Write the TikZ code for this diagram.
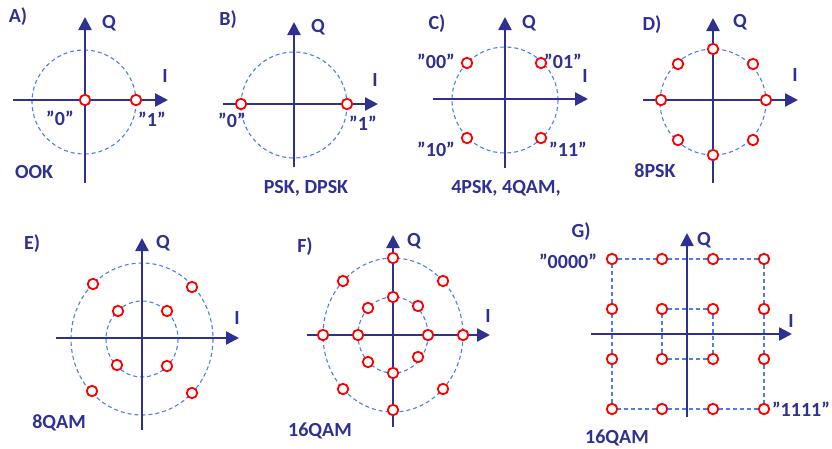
\documentclass[tikz,border=0pt]{standalone}
\usepackage{fontspec}
\setmainfont{Carlito}
\usepackage{xcolor}
\usepackage{tikz}
\usetikzlibrary{arrows.meta,backgrounds}
\definecolor{axiscolor}{HTML}{2E3192}
\definecolor{ringcolor}{HTML}{4D7CF5}
\definecolor{dotcolor}{HTML}{FF0000}

\begin{document}
\begin{tikzpicture}[
    x=1pt, y=-1pt,
    axis/.style={line width=2.4pt, axiscolor, -{Triangle[length=13pt, width=13pt]}},
    ring/.style={draw=ringcolor, line width=1.1pt, dash pattern=on 4pt off 3pt},
    dot/.style={circle, draw=dotcolor, fill=white, line width=1.8pt, minimum size=10.5pt, inner sep=0pt},
    txt/.style={font=\fontsize{20}{20}\selectfont\bfseries, text=axiscolor, inner sep=0pt}
]
\useasboundingbox (0,0) rectangle (832,448);

% A) OOK
\draw[ring] (84,102) circle[radius=52];
\draw[axis] (13,100) -- (168,100);
\draw[axis] (85,183) -- (85,17);
\node[dot] (a0) at (85,100) {};
\node[dot] (a1) at (136,100) {};
\node[txt] (tA) at (18,17) {A)};
\node[txt] (qA) at (109,23) {Q};
\node[txt] (iA) at (165,76) {I};
\node[txt] (lA0) at (60,118) {”0”};
\node[txt] (lA1) at (152,119) {”1”};
\node[txt] (nA) at (34,172) {OOK};

% B) PSK
\draw[ring] (294,105) circle[radius=53];
\draw[axis] (223,104) -- (378,104);
\draw[axis] (294,167) -- (294,22);
\node[dot] (b0) at (241,104) {};
\node[dot] (b1) at (347,104) {};
\node[txt] (tB) at (228,20) {B)};
\node[txt] (qB) at (318,27) {Q};
\node[txt] (iB) at (375,80) {I};
\node[txt] (lB0) at (232,120) {”0”};
\node[txt] (lB1) at (363,123) {”1”};
\node[txt] (nB) at (306,188) {PSK, DPSK};

% C) 4PSK
\draw[ring] (505,100) circle[radius=53];
\draw[axis] (433,99) -- (588,99);
\draw[axis] (505,168) -- (505,17);
\node[dot] (c00) at (467,63) {};
\node[dot] (c01) at (541,63) {};
\node[dot] (c10) at (467,138) {};
\node[dot] (c11) at (541,138) {};
\node[txt] (tC) at (437,24) {C)};
\node[txt] (qC) at (529,23) {Q};
\node[txt] (iC) at (585,76) {I};
\node[txt] (lC00) at (436,61) {”00”};
\node[txt] (lC01) at (563,61) {”01”};
\node[txt] (lC10) at (436,149) {”10”};
\node[txt] (lC11) at (568,149) {”11”};
\node[txt] (nC) at (506,188) {4PSK, 4QAM,};

% D) 8PSK
\draw[ring] (713,102) circle[radius=53];
\draw[axis] (643,100) -- (798,100);
\draw[axis] (713,183) -- (713,18);
\node[dot] (d1) at (766,100) {};
\node[dot] (d2) at (753,64) {};
\node[dot] (d3) at (713,49) {};
\node[dot] (d4) at (678,64) {};
\node[dot] (d5) at (661,100) {};
\node[dot] (d6) at (678,140) {};
\node[dot] (d7) at (713,155) {};
\node[dot] (d8) at (753,140) {};
\node[txt] (tD) at (652,25) {D)};
\node[txt] (qD) at (740,22) {Q};
\node[txt] (iD) at (795,75) {I};
\node[txt] (nD) at (655,171) {8PSK};

% E) 8QAM
\draw[ring] (142,339) ellipse[x radius=71, y radius=76];
\draw[ring] (142,339) ellipse[x radius=36, y radius=38];
\draw[axis] (56,338) -- (239,338);
\draw[axis] (142,430) -- (142,238);
\node[dot] (e1) at (93,284) {};
\node[dot] (e2) at (192,287) {};
\node[dot] (e3) at (92,391) {};
\node[dot] (e4) at (192,393) {};
\node[dot] (e5) at (118,311) {};
\node[dot] (e6) at (167,311) {};
\node[dot] (e7) at (117,365) {};
\node[dot] (e8) at (167,366) {};
\node[txt] (tE) at (32,244) {E)};
\node[txt] (qE) at (163,243) {Q};
\node[txt] (iE) at (237,318) {I};
\node[txt] (nE) at (59,423) {8QAM};

% F) 16QAM, rings
\draw[ring] (393,335) ellipse[x radius=70, y radius=77];
\draw[ring] (393,335) ellipse[x radius=35, y radius=38];
\draw[axis] (307,335) -- (490,335);
\draw[axis] (393,427) -- (393,235);
\node[dot] (f1) at (323,335) {};
\node[dot] (f2) at (463,335) {};
\node[dot] (f3) at (393,258) {};
\node[dot] (f4) at (393,410) {};
\node[dot] (f5) at (343,281) {};
\node[dot] (f6) at (443,281) {};
\node[dot] (f7) at (343,389) {};
\node[dot] (f8) at (443,389) {};
\node[dot] (f9) at (358,335) {};
\node[dot] (f10) at (428,335) {};
\node[dot] (f11) at (393,297) {};
\node[dot] (f12) at (393,373) {};
\node[dot] (f13) at (368,308) {};
\node[dot] (f14) at (418,306) {};
\node[dot] (f15) at (368,362) {};
\node[dot] (f16) at (418,357) {};
\node[txt] (tF) at (305,247) {F)};
\node[txt] (qF) at (414,241) {Q};
\node[txt] (iF) at (488,316) {I};
\node[txt] (nF) at (320,431) {16QAM};

% G) 16QAM, square grid
\draw[axis] (591,334) -- (792,334);
\draw[axis] (687,417) -- (687,233);
\node[dot] (g11) at (612,259) {};
\node[dot] (g12) at (662,259) {};
\node[dot] (g13) at (713,259) {};
\node[dot] (g14) at (764,259) {};
\node[dot] (g21) at (612,309) {};
\node[dot] (g22) at (662,309) {};
\node[dot] (g23) at (713,309) {};
\node[dot] (g24) at (764,309) {};
\node[dot] (g31) at (612,359) {};
\node[dot] (g32) at (662,359) {};
\node[dot] (g33) at (713,359) {};
\node[dot] (g34) at (764,359) {};
\node[dot] (g41) at (612,409) {};
\node[dot] (g42) at (662,409) {};
\node[dot] (g43) at (713,409) {};
\node[dot] (g44) at (764,409) {};
\begin{pgfonlayer}{background}
\draw[ring] (g11) -- (g12) (g12) -- (g13) (g13) -- (g14);
\draw[ring] (g14) -- (g24) (g24) -- (g34) (g34) -- (g44);
\draw[ring] (g44) -- (g43) (g43) -- (g42) (g42) -- (g41);
\draw[ring] (g41) -- (g31) (g31) -- (g21) (g21) -- (g11);
\draw[ring] (g22) -- (g23) (g23) -- (g33) (g33) -- (g32) (g32) -- (g22);
\end{pgfonlayer}
\node[txt] (tG) at (581,232) {G)};
\node[txt] (qG) at (704,240) {Q};
\node[txt] (iG) at (791,321) {I};
\node[txt] (lG0) at (568,261) {”0000”};
\node[txt] (lG1) at (801,409) {”1111”};
\node[txt] (nG) at (617,438) {16QAM};

\end{tikzpicture}
\end{document}
